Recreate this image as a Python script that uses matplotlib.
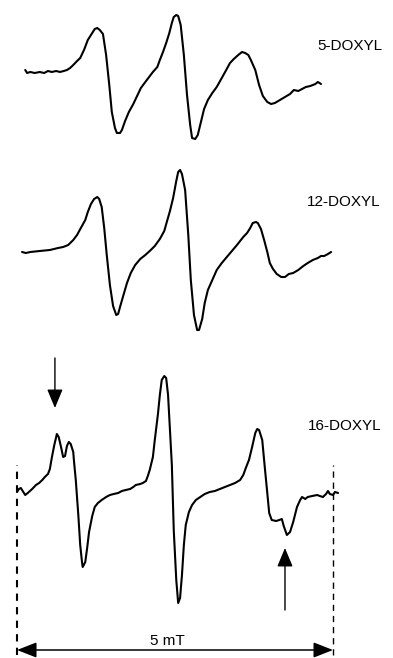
import matplotlib.pyplot as plt
import numpy as np

# field positions (mT) and derivative signal (a.u.)
field_5 = [0.13, 0.16, 0.21, 0.28, 0.36, 0.43, 0.49, 0.55, 0.62, 0.68, 0.74, 0.79,
           0.84, 0.89, 0.95, 1.00, 1.06, 1.12, 1.19, 1.23, 1.27, 1.31, 1.36, 1.41,
           1.46, 1.50, 1.55, 1.58, 1.63, 1.66, 1.71, 1.77, 1.84, 1.90, 1.96, 2.03,
           2.09, 2.15, 2.22, 2.26, 2.31, 2.36, 2.41, 2.45, 2.48, 2.52, 2.55, 2.59,
           2.64, 2.69, 2.74, 2.77, 2.82, 2.86, 2.91, 2.96, 3.02, 3.09, 3.16, 3.24,
           3.31, 3.37, 3.43, 3.50, 3.56, 3.61, 3.66, 3.70, 3.77, 3.83, 3.89, 3.96,
           4.02, 4.08, 4.16, 4.24, 4.32, 4.38, 4.45, 4.51, 4.57, 4.64, 4.72, 4.76,
           4.81]
signal_5 = [3, 0, 1, 0, 1, 0, 2, 1, 2, 1, 2, 3,
            5, 8, 12, 15, 23, 33, 40, 44, 45, 43, 39, 18,
            -12, -39, -55, -60, -60, -57, -48, -39, -31, -23, -15, -9,
            -4, 1, 6, 13, 21, 30, 40, 50, 56, 58, 57, 48,
            18, -22, -52, -65, -66, -62, -49, -36, -27, -20, -14, -5,
            3, 10, 14, 18, 21, 20, 18, 13, 3, -12, -23, -29,
            -31, -30, -27, -24, -21, -17, -18, -16, -14, -13, -11, -9,
            -11]

field_12 = [0.08, 0.14, 0.21, 0.36, 0.52, 0.65, 0.73, 0.81, 0.89, 0.95, 1.01, 1.08,
            1.12, 1.17, 1.22, 1.27, 1.30, 1.34, 1.38, 1.42, 1.47, 1.52, 1.57, 1.60,
            1.63, 1.68, 1.74, 1.80, 1.87, 1.95, 2.03, 2.10, 2.18, 2.26, 2.33, 2.37,
            2.42, 2.47, 2.52, 2.55, 2.58, 2.61, 2.66, 2.71, 2.75, 2.80, 2.85, 2.88,
            2.93, 2.97, 3.02, 3.09, 3.16, 3.24, 3.32, 3.40, 3.48, 3.58, 3.64, 3.69,
            3.73, 3.78, 3.81, 3.86, 3.91, 3.96, 4.00, 4.05, 4.11, 4.18, 4.24, 4.30,
            4.37, 4.45, 4.53, 4.60, 4.68, 4.76, 4.81, 4.86, 4.92, 4.97]
signal_12 = [0, -1, 0, 1, 2, 4, 5, 7, 12, 17, 24, 32,
             40, 48, 53, 55, 53, 45, 24, -3, -33, -54, -63, -62,
             -55, -44, -31, -21, -13, -7, -3, 1, 6, 13, 21, 30,
             41, 54, 71, 80, 82, 78, 62, 17, -28, -63, -78, -78,
             -67, -51, -38, -28, -18, -11, -5, 1, 7, 15, 19, 24,
             29, 30, 29, 23, 12, 0, -11, -17, -22, -25, -25, -22,
             -21, -18, -14, -11, -8, -6, -4, -4, -2, 0]

field_16 = [0.00, 0.03, 0.06, 0.09, 0.13, 0.17, 0.24, 0.30, 0.35, 0.40, 0.44, 0.49,
            0.52, 0.55, 0.59, 0.62, 0.63, 0.66, 0.70, 0.73, 0.76, 0.79, 0.82, 0.85,
            0.89, 0.90, 0.93, 0.97, 1.00, 1.03, 1.04, 1.08, 1.11, 1.14, 1.19, 1.23,
            1.28, 1.34, 1.41, 1.47, 1.53, 1.60, 1.66, 1.72, 1.79, 1.84, 1.88, 1.95,
            1.99, 2.04, 2.07, 2.10, 2.15, 2.18, 2.23, 2.26, 2.29, 2.33, 2.36, 2.39,
            2.42, 2.45, 2.48, 2.52, 2.55, 2.58, 2.61, 2.64, 2.67, 2.72, 2.77, 2.83,
            2.90, 2.97, 3.05, 3.13, 3.21, 3.29, 3.37, 3.45, 3.53, 3.58, 3.62, 3.67,
            3.72, 3.77, 3.80, 3.83, 3.88, 3.92, 3.96, 3.99, 4.03, 4.10, 4.15, 4.19,
            4.22, 4.27, 4.32, 4.37, 4.43, 4.48, 4.51, 4.56, 4.60, 4.67, 4.75, 4.79,
            4.84, 4.89, 4.92, 4.95, 5.00, 5.03, 5.08]
signal_16 = [0, 3, 4, 1, -3, -1, 3, 7, 9, 12, 15, 18,
             23, 34, 47, 55, 58, 55, 44, 35, 36, 46, 50, 48,
             40, 32, 12, -23, -53, -71, -75, -70, -56, -40, -24, -15,
             -11, -8, -5, -3, -2, -1, 1, 2, 3, 5, 7, 8,
             9, 11, 16, 22, 35, 52, 78, 97, 112, 116, 114, 97,
             62, 27, -38, -88, -111, -106, -83, -53, -33, -20, -13, -8,
             -5, -2, 0, 1, 3, 5, 7, 9, 12, 17, 24, 32,
             45, 59, 63, 62, 52, 25, -1, -21, -28, -29, -28, -27,
             -34, -43, -40, -30, -15, -8, -5, -7, -5, -4, -3, -4,
             -5, -2, 1, -2, -3, 0, -1]

labels = ['5-DOXYL', '12-DOXYL', '16-DOXYL']
sweep = 5.0          # mT, width of the scale bar
arrow_fields = [0.60, 4.24]


fig = plt.figure(figsize=(3.93, 6.58), dpi=100)
ax = fig.add_axes([0, 0, 1, 1])
ax.set_xlim(-0.269, 5.949)
ax.set_ylim(0, 658)
ax.axis('off')

offsets = [585, 406, 166]
label_pos = [(4.75, 608), (4.59, 452), (4.60, 228)]
traces = [(field_5, signal_5), (field_12, signal_12), (field_16, signal_16)]

for (f, s), off, name, (lx, ly) in zip(traces, offsets, labels, label_pos):
    ax.plot(f, np.array(s) + off, color='black', lw=1.5,
            solid_joinstyle='round', solid_capstyle='round')
    ax.text(lx, ly, name, fontsize=11, family='Liberation Sans', va='baseline')

# arrows marking the immobilised component in 16-DOXYL
ax.annotate('', xy=(arrow_fields[0], 250), xytext=(arrow_fields[0], 300),
            arrowprops=dict(arrowstyle='-|>,head_length=1.15,head_width=0.48',
                            color='black', lw=1.0, shrinkA=0, shrinkB=0))
ax.annotate('', xy=(arrow_fields[1], 110), xytext=(arrow_fields[1], 48),
            arrowprops=dict(arrowstyle='-|>,head_length=1.15,head_width=0.48',
                            color='black', lw=1.0, shrinkA=0, shrinkB=0))

# 5 mT scale bar
ax.plot([0, 0], [3, 193], color='black', lw=1.5, dashes=(3.5, 3))
ax.plot([sweep, sweep], [3, 193], color='black', lw=1.0, dashes=(4.5, 3.5))
ax.annotate('', xy=(0, 8), xytext=(sweep, 8),
            arrowprops=dict(arrowstyle='<|-|>,head_length=1.2,head_width=0.47',
                            color='black', lw=1.1, shrinkA=0, shrinkB=0))
ax.text(2.38, 13, f'{sweep:g} mT', fontsize=11, family='Liberation Sans',
        ha='center', va='baseline')

plt.savefig('out.png', dpi=100)
